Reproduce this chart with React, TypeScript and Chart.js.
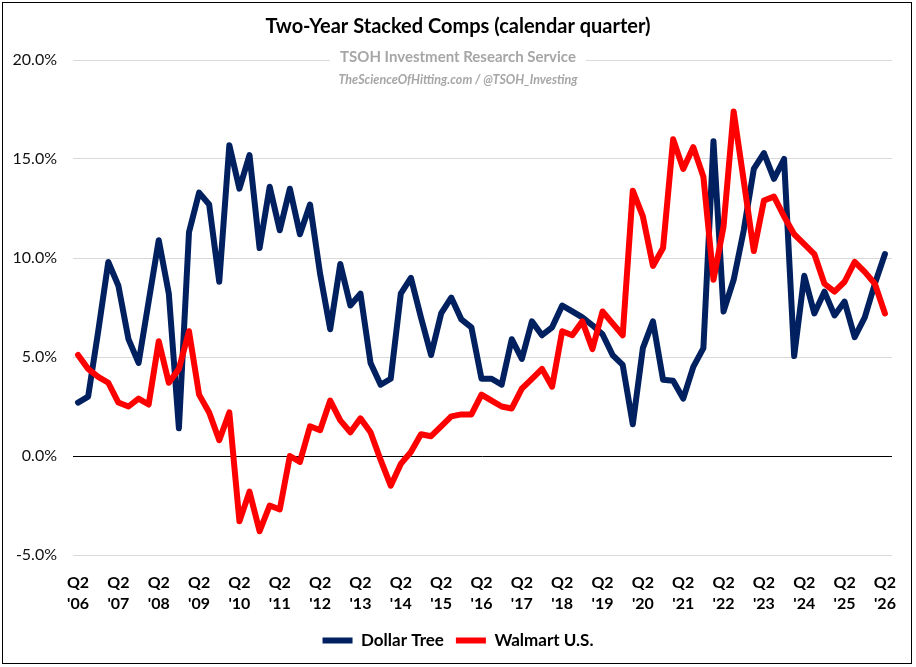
import { useEffect, useRef } from "react";
import { Chart, registerables } from "chart.js";

Chart.register(...registerables);

const chartTitle = "Two-Year Stacked Comps (calendar quarter)";
const subtitleLine1 = "TSOH Investment Research Service";
const subtitleLine2 = "TheScienceOfHitting.com / @TSOH_Investing";

const quarterLabel = "Q2";
const yearLabels = [
  "'06", "'07", "'08", "'09", "'10", "'11", "'12", "'13", "'14", "'15", "'16",
  "'17", "'18", "'19", "'20", "'21", "'22", "'23", "'24", "'25", "'26",
];

// quarterly values, Q2 '06 .. Q2 '26 (81 quarters)
const dollarTree = [
  2.7, 3.0, 6.3, 9.8, 8.6, 5.9, 4.7, 7.8, 10.9, 8.2,
  1.4, 11.3, 13.3, 12.7, 8.8, 15.7, 13.5, 15.2, 10.5, 13.6,
  11.4, 13.5, 11.2, 12.7, 9.2, 6.4, 9.7, 7.6, 8.2, 4.7,
  3.6, 3.9, 8.2, 9.0, 7.0, 5.1, 7.2, 8.0, 6.9, 6.5,
  3.9, 3.9, 3.6, 5.9, 4.9, 6.8, 6.1, 6.5, 7.6, 7.3,
  7.0, 6.6, 6.15, 5.1, 4.6, 1.6, 5.45, 6.8, 3.85, 3.8,
  2.9, 4.5, 5.45, 15.9, 7.3, 8.9, 11.4, 14.5, 15.3, 14.0,
  15.0, 5.05, 9.1, 7.2, 8.3, 7.1, 7.8, 6.0, 7.0, 8.7,
  10.2,
];

const walmartUS = [
  5.1, 4.4, 4.0, 3.7, 2.7, 2.5, 2.9, 2.6, 5.8, 3.7,
  4.4, 6.3, 3.1, 2.2, 0.8, 2.2, -3.3, -1.8, -3.8, -2.5,
  -2.7, 0.0, -0.3, 1.5, 1.3, 2.8, 1.8, 1.2, 1.9, 1.2,
  -0.2, -1.5, -0.4, 0.2, 1.1, 1.0, 1.5, 2.0, 2.1, 2.1,
  3.1, 2.8, 2.5, 2.4, 3.4, 3.9, 4.4, 3.5, 6.3, 6.1,
  6.8, 5.4, 7.3, 6.7, 6.1, 13.4, 12.1, 9.6, 10.5, 16.0,
  14.5, 15.6, 14.1, 8.9, 11.6, 17.4, 13.9, 10.35, 12.9, 13.1,
  12.1, 11.2, 10.7, 10.2, 8.7, 8.3, 8.8, 9.8, 9.3, 8.7,
  7.2,
];

const yMin = -5;
const yMax = 20;
const yStep = 5;

const FONT = "Lato, 'Open Sans', sans-serif";
const NAVY = "#002060";
const RED = "#FF0000";
const GREY_TEXT = "#a6a6a6";

const headerPlugin = {
  id: "headerText",
  beforeDatasetsDraw(chart: any) {
    const ctx = chart.ctx;
    const center = chart.width / 2;
    ctx.save();
    ctx.font = `bold 15px ${FONT}`;
    const w = ctx.measureText(subtitleLine1).width;
    ctx.fillStyle = "#ffffff";
    ctx.fillRect(center - w / 2 - 10, 48, w + 20, 18);
    ctx.fillStyle = GREY_TEXT;
    ctx.textAlign = "center";
    ctx.textBaseline = "middle";
    ctx.fillText(subtitleLine1, center, 57);
    ctx.font = `italic bold 12.5px ${FONT}`;
    ctx.fillText(subtitleLine2, center, 80);
    ctx.restore();
  },
};

export default function App() {
  const canvasRef = useRef<HTMLCanvasElement | null>(null);

  useEffect(() => {
    const canvas = canvasRef.current;
    if (!canvas) return;
    const chart = new Chart(canvas, {
      type: "line",
      data: {
        datasets: [
          {
            label: "Dollar Tree",
            data: dollarTree.map((v, i) => ({ x: i, y: v })),
            borderColor: NAVY,
            backgroundColor: NAVY,
            borderWidth: 6,
            pointRadius: 0,
            tension: 0,
            borderJoinStyle: "round",
            borderCapStyle: "round",
            pointStyle: "line",
            order: 1,
          },
          {
            label: "Walmart U.S.",
            data: walmartUS.map((v, i) => ({ x: i, y: v })),
            borderColor: RED,
            backgroundColor: RED,
            borderWidth: 6,
            pointRadius: 0,
            tension: 0,
            borderJoinStyle: "round",
            borderCapStyle: "round",
            pointStyle: "line",
            order: 0,
          },
        ],
      },
      options: {
        responsive: false,
        animation: false,
        layout: { padding: { left: 12, right: 12, top: 0, bottom: 8 } },
        plugins: {
          title: {
            display: true,
            text: chartTitle,
            color: "#000000",
            font: { family: FONT, size: 20, weight: "bold", lineHeight: 1.2 },
            padding: { top: 15, bottom: 21 },
          },
          legend: {
            display: true,
            position: "bottom",
            labels: {
              usePointStyle: true,
              pointStyleWidth: 30,
              boxHeight: 6,
              padding: 12,
              color: "#000000",
              font: { family: FONT, size: 17, weight: "bold" },
              sort: (a: any, b: any) => a.datasetIndex - b.datasetIndex,
            },
          },
          tooltip: { enabled: false },
        },
        scales: {
          x: {
            type: "linear",
            min: -0.5,
            max: 80.7,
            afterBuildTicks: (scale: any) => {
              scale.ticks = yearLabels.map((_, i) => ({ value: i * 4 }));
            },
            afterFit: (scale: any) => {
              scale.height = 65;
            },
            grid: { display: false, drawTicks: false },
            border: { display: false },
            ticks: {
              autoSkip: false,
              maxRotation: 0,
              padding: 17,
              color: "#000000",
              font: { family: FONT, size: 16, weight: "bold", lineHeight: 1.33 },
              callback: (value: any) => [quarterLabel, yearLabels[Math.round(Number(value) / 4)]],
            },
          },
          y: {
            min: yMin,
            max: yMax,
            afterFit: (scale: any) => {
              scale.width = 61;
            },
            grid: {
              drawTicks: false,
              color: (c: any) => (c.tick && c.tick.value === 0 ? "#000000" : "#d9d9d9"),
              lineWidth: 1,
            },
            border: { display: false },
            ticks: {
              stepSize: yStep,
              padding: 16,
              color: "#111111",
              font: { family: FONT, size: 16 },
              callback: (value: any) => `${Number(value).toFixed(1)}%`,
            },
          },
          yRight: {
            position: "right",
            display: true,
            min: 0,
            max: 1,
            afterFit: (scale: any) => {
              scale.width = 12;
            },
            grid: { display: false, drawTicks: false },
            border: { display: false },
            ticks: { display: false },
          },
        },
      },
      plugins: [headerPlugin],
    } as any);
    return () => chart.destroy();
  }, []);

  return (
    <div
      style={{
        position: "absolute",
        left: 0,
        top: 0,
        width: 916,
        height: 667,
        background: "#ffffff",
      }}
    >
      <canvas ref={canvasRef} width={916} height={667} style={{ width: 916, height: 667, display: "block" }} />
      <div
        style={{
          position: "absolute",
          left: 2,
          top: 2,
          width: 910,
          height: 662,
          boxSizing: "border-box",
          border: "1px solid #000",
          pointerEvents: "none",
        }}
      />
    </div>
  );
}
